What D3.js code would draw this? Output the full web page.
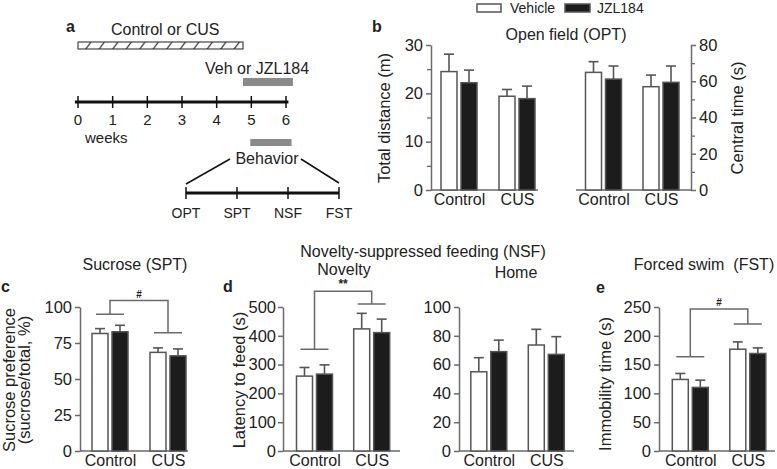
<!DOCTYPE html>
<html><head><meta charset="utf-8">
<script src="https://cdn.jsdelivr.net/npm/d3@7"></script>
<style>
html,body{margin:0;padding:0;background:#fff;}
svg{display:block;font-family:"Liberation Sans",Arial,Helvetica,sans-serif;}
</style></head><body>
<svg id="chart" width="777" height="469"></svg>
<script>
// ---------- data ----------
const groups = ["Control", "CUS"];
const series = ["Vehicle", "JZL184"];
const weekTicks = [0, 1, 2, 3, 4, 5, 6];
const behaviorTests = ["OPT", "SPT", "NSF", "FST"];

// b: open field
const distVeh = [24.5, 19.4], distVehSem = [3.6, 1.4];
const distJzl = [22.2, 18.9], distJzlSem = [2.6, 2.6];
const centVeh = [64.9, 57.0], centVehSem = [5.9, 6.4];
const centJzl = [61.2, 59.4], centJzlSem = [7.2, 9.0];
// c: sucrose
const sucVeh = [81.6, 68.5], sucVehSem = [3.4, 3.1];
const sucJzl = [82.8, 66.1], sucJzlSem = [4.5, 4.8];
// d: NSF
const novVeh = [260, 424], novVehSem = [30, 54];
const novJzl = [267, 411], novJzlSem = [32, 47];
const homeVeh = [55, 73.6], homeVehSem = [9.8, 10.9];
const homeJzl = [69, 67.1], homeJzlSem = [8, 12.3];
// e: forced swim
const fstVeh = [124.2, 176.7], fstVehSem = [10.4, 12.7];
const fstJzl = [110.4, 169.3], fstJzlSem = [12.6, 9.7];

// significance bracket levels (data units): [control, top, CUS]
const sucBracket = [95, 104.5, 82.2];
const novBracket = [353, 555, 510];
const fstBracket = [163.7, 246.5, 220.5];

// ---------- drawing ----------
const svg = d3.select("#chart");
const TXT = "#222";
const AX = "#6a6a6a";
const BAR = "#555";
const TICKFONT = 16.5;

function txt(x, y, s, size, opts = {}) {
  const t = svg.append("text").attr("x", x).attr("y", y).text(s)
    .attr("font-size", size).attr("fill", TXT)
    .attr("text-anchor", opts.anchor || "start");
  if (opts.bold) t.attr("font-weight", "bold");
  if (opts.rotate) t.attr("transform", `rotate(-90,${x},${y})`);
  return t;
}

function barPanel(o) {
  const g = svg.append("g");
  const y = d3.scaleLinear().domain([0, o.max]).range([o.yBot, o.yTop]);
  const x = d3.scalePoint().domain(groups).range(o.centers);
  const xs = d3.scaleBand().domain(series).range([-18, 18]).paddingInner(0.2);
  const major = d3.range(0, o.max + 0.001, o.major);
  const axisFn = o.right ? d3.axisRight : d3.axisLeft;
  if (o.minor) {
    const minor = d3.range(o.minor, o.max, o.major);
    g.append("g").attr("transform", `translate(${o.axisX},0)`)
      .call(axisFn(y).tickValues(minor).tickSize(4).tickFormat("").tickSizeOuter(0))
      .call(a => a.select(".domain").remove())
      .call(a => a.selectAll("line").attr("stroke", AX).attr("stroke-width", 1.3));
  }
  g.append("g").attr("transform", `translate(${o.axisX},0)`)
    .call(axisFn(y).tickValues(major).tickSize(5).tickPadding(o.pad ?? 3).tickSizeOuter(0))
    .call(a => a.select(".domain").attr("stroke", AX).attr("stroke-width", 1.5))
    .call(a => a.selectAll("line").attr("stroke", AX).attr("stroke-width", 1.5))
    .call(a => a.selectAll("text").attr("font-size", TICKFONT).attr("fill", TXT)
      .attr("font-family", "Liberation Sans, Arial, sans-serif"));
  // x baseline
  g.append("line").attr("x1", o.xFrom).attr("x2", o.xTo)
    .attr("y1", o.yBot).attr("y2", o.yBot).attr("stroke", AX).attr("stroke-width", 1.5);
  g.append("g").attr("transform", `translate(0,${o.yBot})`)
    .call(d3.axisBottom(x).tickSize(0).tickPadding(4))
    .call(a => a.select(".domain").remove())
    .call(a => a.selectAll("text").attr("font-size", 16).attr("fill", TXT)
      .attr("font-family", "Liberation Sans, Arial, sans-serif"));
  const rows = [];
  groups.forEach((gname, i) => {
    rows.push({ g: gname, s: "Vehicle", v: o.veh[i], e: o.vehSem[i] });
    rows.push({ g: gname, s: "JZL184", v: o.jzl[i], e: o.jzlSem[i] });
  });
  rows.forEach(r => {
    const bx = x(r.g) + xs(r.s);
    const cx = bx + xs.bandwidth() / 2;
    g.append("line").attr("x1", cx).attr("x2", cx)
      .attr("y1", y(r.v)).attr("y2", y(r.v + r.e)).attr("stroke", BAR).attr("stroke-width", 1.6);
    g.append("line").attr("x1", cx - 5).attr("x2", cx + 5)
      .attr("y1", y(r.v + r.e)).attr("y2", y(r.v + r.e)).attr("stroke", BAR).attr("stroke-width", 1.6);
    g.append("rect").attr("x", bx).attr("y", y(r.v))
      .attr("width", xs.bandwidth()).attr("height", o.yBot - y(r.v))
      .attr("fill", r.s === "Vehicle" ? "#fff" : "#1c1c1c")
      .attr("stroke", BAR).attr("stroke-width", 1.5);
  });
  if (o.bracket) {
    const [lc, lt, lu] = o.bracket;
    const c0 = x("Control"), c1 = x("CUS");
    const path = d3.path();
    path.moveTo(c0 - 14, y(lc)); path.lineTo(c0 + 14, y(lc));
    path.moveTo(c0, y(lc)); path.lineTo(c0, y(lt)); path.lineTo(c1, y(lt)); path.lineTo(c1, y(lu));
    path.moveTo(c1 - 14, y(lu)); path.lineTo(c1 + 14, y(lu));
    g.append("path").attr("d", path.toString()).attr("fill", "none")
      .attr("stroke", AX).attr("stroke-width", 1.5);
    txt((c0 + c1) / 2, y(lt) - 3, o.mark, o.mark === "#" ? 10 : 12, { anchor: "middle", bold: true });
  }
  return y;
}

// ---------- panel a ----------
txt(66, 32, "a", 16, { bold: true });
const wk = d3.scaleLinear().domain([0, 6]).range([78, 286]);
const defs = svg.append("defs");
const pat = defs.append("pattern").attr("id", "hatch").attr("patternUnits", "userSpaceOnUse")
  .attr("width", 13.5).attr("height", 8).attr("x", 0).attr("y", 42);
pat.append("line").attr("x1", 4).attr("y1", 8).attr("x2", 10).attr("y2", 0)
  .attr("stroke", "#222").attr("stroke-width", 1.2);
txt(wk(0) + 33, 35, "Control or CUS", 16);
svg.append("rect").attr("x", wk(0)).attr("y", 42).attr("width", wk(4.76) - wk(0)).attr("height", 7)
  .attr("fill", "url(#hatch)").attr("stroke", "#333").attr("stroke-width", 1.1);
txt(205, 74, "Veh or JZL184", 16);
svg.append("rect").attr("x", wk(4.76)).attr("y", 78).attr("width", wk(6.2) - wk(4.76)).attr("height", 8)
  .attr("fill", "#8a8a8a");
svg.append("line").attr("x1", wk(-0.09)).attr("x2", wk(6.07)).attr("y1", 102).attr("y2", 102)
  .attr("stroke", "#111").attr("stroke-width", 3);
weekTicks.forEach(w => {
  svg.append("line").attr("x1", wk(w)).attr("x2", wk(w)).attr("y1", 96).attr("y2", 108)
    .attr("stroke", "#111").attr("stroke-width", 1.5);
  txt(wk(w), 125, String(w), 15, { anchor: "middle" });
});
txt(85, 143, "weeks", 15);
svg.append("rect").attr("x", wk(4.97)).attr("y", 139).attr("width", wk(6.16) - wk(4.97)).attr("height", 7)
  .attr("fill", "#8a8a8a");
txt(267, 164, "Behavior", 16, { anchor: "middle" });
const bt = d3.scalePoint().domain(behaviorTests).range([186, 339]);
svg.append("line").attr("x1", 230).attr("y1", 159).attr("x2", bt("OPT")).attr("y2", 184)
  .attr("stroke", "#111").attr("stroke-width", 1.5);
svg.append("line").attr("x1", 301).attr("y1", 159).attr("x2", bt("FST")).attr("y2", 183)
  .attr("stroke", "#111").attr("stroke-width", 1.5);
svg.append("line").attr("x1", bt("OPT")).attr("x2", bt("FST")).attr("y1", 193).attr("y2", 193)
  .attr("stroke", "#111").attr("stroke-width", 3);
behaviorTests.forEach(b => {
  svg.append("line").attr("x1", bt(b)).attr("x2", bt(b)).attr("y1", 187).attr("y2", 199)
    .attr("stroke", "#111").attr("stroke-width", 1.5);
  txt(bt(b), 218, b, 14, { anchor: "middle" });
});

// ---------- legend ----------
svg.append("rect").attr("x", 477).attr("y", 4).attr("width", 24).attr("height", 8)
  .attr("fill", "#fff").attr("stroke", BAR).attr("stroke-width", 1.5);
txt(510, 13, series[0], 14);
svg.append("rect").attr("x", 565).attr("y", 4).attr("width", 25).attr("height", 8)
  .attr("fill", "#1c1c1c").attr("stroke", BAR).attr("stroke-width", 1.5);
txt(597, 13, series[1], 14);

// ---------- panel b ----------
txt(372, 32, "b", 16, { bold: true });
txt(566, 40, "Open field (OPT)", 16, { anchor: "middle" });
barPanel({ axisX: 431, yTop: 45, yBot: 190, max: 30, major: 10, minor: 5,
  centers: [459, 517], xFrom: 431, xTo: 538,
  veh: distVeh, vehSem: distVehSem, jzl: distJzl, jzlSem: distJzlSem });
txt(390, 118, "Total distance (m)", 16.5, { anchor: "middle", rotate: true });
barPanel({ axisX: 691, yTop: 45, yBot: 190, max: 80, major: 20, minor: 10, right: true,
  centers: [603.5, 661], xFrom: 576, xTo: 691,
  veh: centVeh, vehSem: centVehSem, jzl: centJzl, jzlSem: centJzlSem });
txt(743, 118, "Central time (s)", 16.5, { anchor: "middle", rotate: true });

// ---------- panel c ----------
txt(1, 292, "c", 16, { bold: true });
txt(135, 270, "Sucrose (SPT)", 16, { anchor: "middle" });
barPanel({ axisX: 80, yTop: 307, yBot: 451, max: 100, major: 25,
  centers: [110, 168], xFrom: 80, xTo: 188,
  veh: sucVeh, vehSem: sucVehSem, jzl: sucJzl, jzlSem: sucJzlSem,
  bracket: sucBracket, mark: "#" });
txt(15, 380, "Sucrose preference", 16.5, { anchor: "middle", rotate: true });
txt(30, 380, "(sucrose/total, %)", 16.5, { anchor: "middle", rotate: true });

// ---------- panel d ----------
txt(223, 292, "d", 16, { bold: true });
txt(423, 257, "Novelty-suppressed feeding (NSF)", 16, { anchor: "middle" });
txt(344, 275, "Novelty", 16, { anchor: "middle" });
txt(516, 278, "Home", 16, { anchor: "middle" });
barPanel({ axisX: 283, yTop: 307, yBot: 451, max: 500, major: 100, pad: 2,
  centers: [314.5, 371.7], xFrom: 283, xTo: 400,
  veh: novVeh, vehSem: novVehSem, jzl: novJzl, jzlSem: novJzlSem,
  bracket: novBracket, mark: "**" });
txt(245, 380, "Latency to feed (s)", 16.5, { anchor: "middle", rotate: true });
barPanel({ axisX: 459, yTop: 307, yBot: 451, max: 100, major: 20,
  centers: [488.8, 546.3], xFrom: 459, xTo: 574,
  veh: homeVeh, vehSem: homeVehSem, jzl: homeJzl, jzlSem: homeJzlSem });

// ---------- panel e ----------
txt(596, 293, "e", 16, { bold: true });
txt(704, 270, "Forced swim\u00a0\u00a0(FST)", 16, { anchor: "middle" });
barPanel({ axisX: 659, yTop: 307, yBot: 451, max: 250, major: 50,
  centers: [690.3, 747.8], xFrom: 659, xTo: 775,
  veh: fstVeh, vehSem: fstVehSem, jzl: fstJzl, jzlSem: fstJzlSem,
  bracket: fstBracket, mark: "#" });
txt(611, 384, "Immobility time (s)", 16.5, { anchor: "middle", rotate: true });
</script>
</body></html>
